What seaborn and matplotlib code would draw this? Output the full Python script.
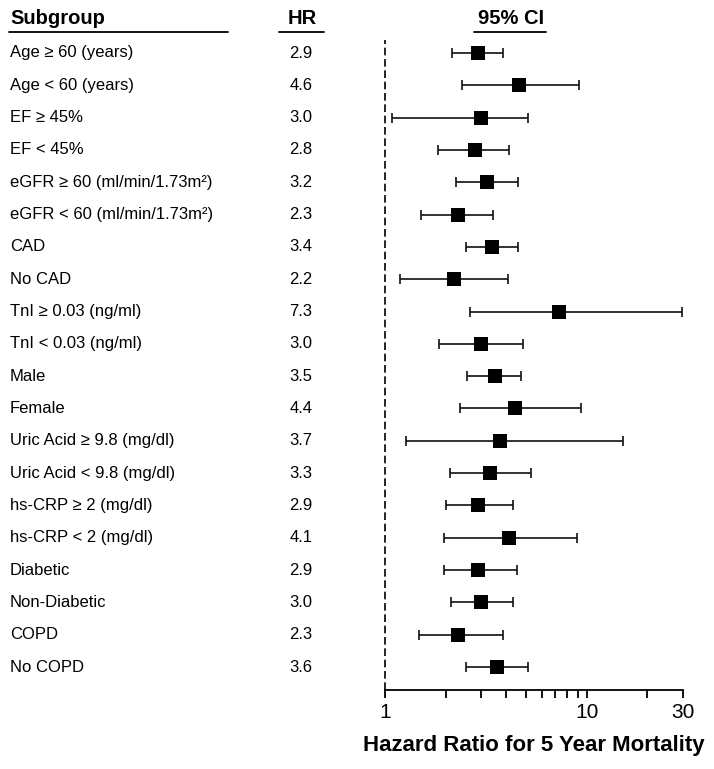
import numpy as np
import pandas as pd
import matplotlib
matplotlib.use("Agg")
import matplotlib.pyplot as plt
from matplotlib.lines import Line2D
from matplotlib.transforms import blended_transform_factory
import seaborn as sns

subgroups = [
    "Age \u2265 60 (years)", "Age < 60 (years)", "EF \u2265 45%", "EF < 45%",
    "eGFR \u2265 60 (ml/min/1.73m\u00b2)", "eGFR < 60 (ml/min/1.73m\u00b2)",
    "CAD", "No CAD", "TnI \u2265 0.03 (ng/ml)", "TnI < 0.03 (ng/ml)",
    "Male", "Female", "Uric Acid \u2265 9.8 (mg/dl)", "Uric Acid < 9.8 (mg/dl)",
    "hs-CRP \u2265 2 (mg/dl)", "hs-CRP < 2 (mg/dl)", "Diabetic", "Non-Diabetic",
    "COPD", "No COPD",
]
hr = [2.9, 4.6, 3.0, 2.8, 3.2, 2.3, 3.4, 2.2, 7.3, 3.0,
      3.5, 4.4, 3.7, 3.3, 2.9, 4.1, 2.9, 3.0, 2.3, 3.6]
ci_low = [2.14, 2.42, 1.08, 1.84, 2.24, 1.50, 2.53, 1.19, 2.65, 1.86,
          2.54, 2.35, 1.27, 2.11, 2.01, 1.95, 1.95, 2.13, 1.47, 2.52]
ci_high = [3.83, 9.19, 5.10, 4.12, 4.58, 3.44, 4.55, 4.07, 29.8, 4.85,
           4.71, 9.34, 15.1, 5.27, 4.30, 8.99, 4.50, 4.33, 3.83, 5.12]
major_ticks = [1, 10, 30]
minor_ticks = [2, 3, 4, 5, 6, 7, 8, 9, 20]

df = pd.DataFrame({"subgroup": subgroups, "hr": hr, "lo": ci_low, "hi": ci_high})
df["row"] = np.arange(len(df))

sns.set_theme(style="white")
plt.rcParams["font.family"] = ["Liberation Sans", "DejaVu Sans"]
plt.rcParams["text.color"] = "black"
plt.rcParams["axes.labelcolor"] = "black"
plt.rcParams["xtick.color"] = "black"

W, H = 714, 769
fig = plt.figure(figsize=(W / 100, H / 100), dpi=100)

def fx(px):
    return px / W

def fy(py):
    return 1 - py / H

ax_l, ax_r, ax_t, ax_b = 385, 683, 40, 690
ax = fig.add_axes([fx(ax_l), fy(ax_b), (ax_r - ax_l) / W, (ax_b - ax_t) / H])

# error bars
ax.errorbar(df["hr"], df["row"],
            xerr=[df["hr"] - df["lo"], df["hi"] - df["hr"]],
            fmt="none", ecolor="#111111", elinewidth=1.2, capsize=3.8,
            capthick=1.2, zorder=2)
sns.scatterplot(data=df, x="hr", y="row", marker="s", s=112, color="black",
                linewidth=0, ax=ax, zorder=3, legend=False)

ax.set_xscale("log")
ax.set_xlim(1, 30)
row_px = (667 - 53) / 19
ax.set_ylim(19 + (ax_b - 667) / row_px, -(53 - ax_t) / row_px)

ax.axvline(1, color="black", lw=1.2, linestyle=(0, (4.6, 2.2)), clip_on=False, zorder=1)

for s in ["left", "top", "right"]:
    ax.spines[s].set_visible(False)
ax.spines["bottom"].set_linewidth(1.3)
ax.spines["bottom"].set_color("black")

ax.set_xticks(major_ticks)
ax.set_xticklabels([str(t) for t in major_ticks])
ax.set_xticks(minor_ticks, minor=True)
ax.xaxis.set_minor_formatter(matplotlib.ticker.NullFormatter())
ax.tick_params(axis="x", which="major", direction="out", length=5.5, width=1.3,
               color="black", labelsize=15, labelcolor="black", pad=4, bottom=True)
ax.tick_params(axis="x", which="minor", direction="out", length=5.5, width=1.3,
               color="black", bottom=True)
ax.set_yticks([])
ax.set_ylabel("")
ax.set_xlabel("Hazard Ratio for 5 Year Mortality", fontsize=16, fontweight="bold",
              color="black", labelpad=9)

# left table
trans = blended_transform_factory(fig.transFigure, ax.transData)
for r, (lab, v) in enumerate(zip(subgroups, hr)):
    ax.text(fx(10), r, lab, transform=trans, ha="left", va="center", fontsize=12,
            color="black")
    ax.text(fx(301), r, f"{v:.1f}", transform=trans, ha="center", va="center",
            fontsize=12, color="black")

# headers
fig.text(fx(10), fy(18), "Subgroup", ha="left", va="center", fontsize=14.5,
         fontweight="bold", color="black")
fig.text(fx(302), fy(18), "HR", ha="center", va="center", fontsize=14.5,
         fontweight="bold", color="black")
fig.text(fx(511), fy(18), "95% CI", ha="center", va="center", fontsize=14.5,
         fontweight="bold", color="black")
for x0, x1 in [(9, 228), (279, 324), (474, 546)]:
    fig.add_artist(Line2D([fx(x0), fx(x1)], [fy(32), fy(32)], color="black", lw=1.3,
                          transform=fig.transFigure))

fig.savefig("out.png", dpi=100, facecolor="white")
